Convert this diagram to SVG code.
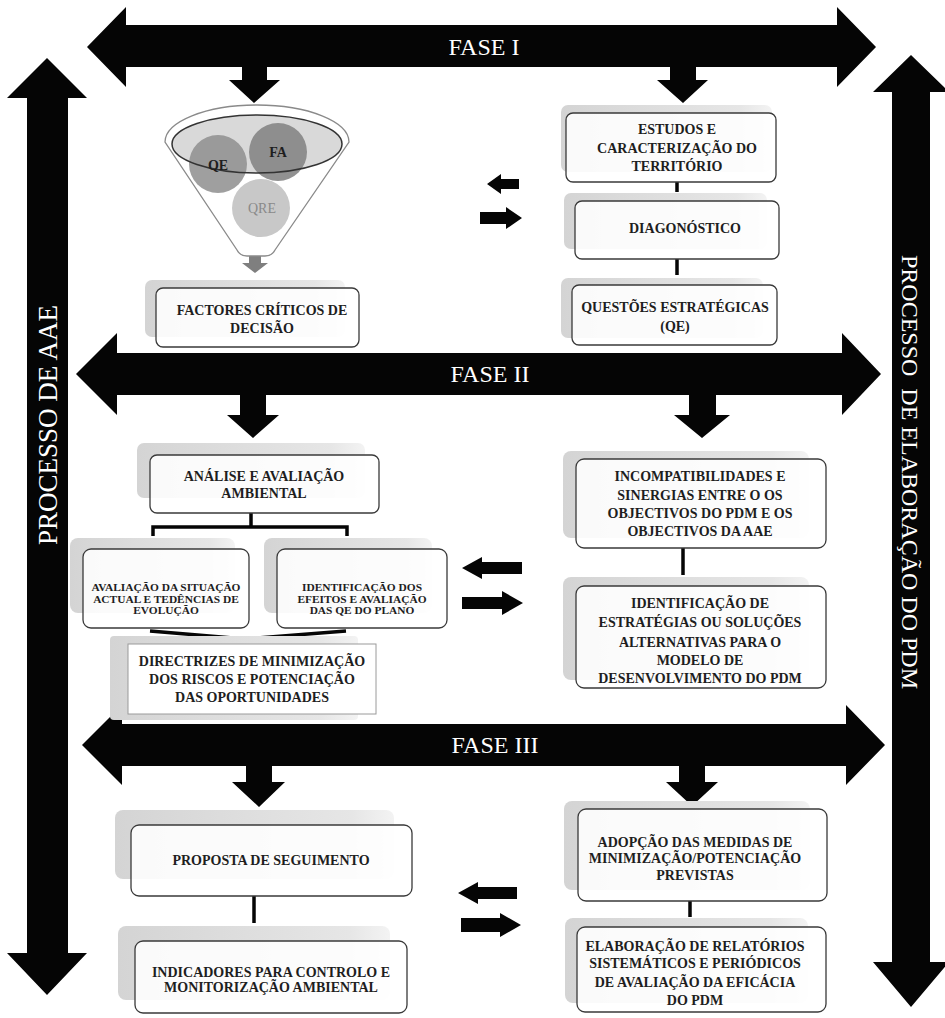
<svg xmlns="http://www.w3.org/2000/svg" width="945" height="1018" viewBox="0 0 945 1018">
<defs>
<linearGradient id="sh" x1="0" y1="0" x2="1" y2="0">
<stop offset="0" stop-color="#d4d4d4"/>
<stop offset="0.85" stop-color="#e6e6e6"/>
<stop offset="1" stop-color="#f3f3f3"/>
</linearGradient>
<style>
.sh{fill:url(#sh);}
.box{fill:#ffffff;fill-opacity:0.88;stroke:#3a3a3a;stroke-width:1.3;}
.sq{fill:#ffffff;stroke:#9a9a9a;stroke-width:1;}
.t{font-family:"Liberation Serif","Times New Roman",serif;font-weight:bold;font-size:14px;fill:#1e1e1e;text-anchor:middle;}
.ts{font-size:11.4px;}
.ph{font-family:"Liberation Serif","Times New Roman",serif;font-size:24px;fill:#ffffff;text-anchor:middle;}
.vt{font-family:"Liberation Serif","Times New Roman",serif;fill:#ffffff;text-anchor:middle;}
.blk{fill:#050505;}
.ln{stroke:#050505;stroke-width:3.5;fill:none;}
</style>
</defs>
<rect width="945" height="1018" fill="#ffffff"/>

<g id="connectors">
<!-- vertical process arrows -->
<polygon class="blk" points="47,58 87,98 68,98 68,953 87,953 47,995 7,953 27,953 27,98 7,98"/>
<polygon class="blk" points="911,55 949,92 930,92 930,962 949,962 911,1007 873,962 892,962 892,92 873,92"/>
<!-- FASE I -->
<polygon class="blk" points="87,47 126,7 126,25 837,25 837,7 876,47 837,87 837,67 683,67 683,67 126,67 126,87"/>
<polygon class="blk" points="242,66 267,66 267,80 280,80 254,103 229,80 242,80"/>
<polygon class="blk" points="670,66 696,66 696,80 708,80 683,103 657,80 670,80"/>
<!-- FASE II -->
<polygon class="blk" points="76,374 117,333 117,353 842,353 842,333 881,374 842,415 842,395 117,395 117,415"/>
<polygon class="blk" points="240,394 266,394 266,415 279,415 253,438 227,415 240,415"/>
<polygon class="blk" points="689,394 716,394 716,415 730,415 702,438 674,415 689,415"/>
<!-- FASE III -->
<polygon class="blk" points="82,745 122,705 122,724 846,724 846,705 885,745 846,785 846,766 122,766 122,785"/>
<polygon class="blk" points="246,765 272,765 272,782 285,782 259,807 232,782 246,782"/>
<polygon class="blk" points="679,765 705,765 705,782 718,782 692,806 666,782 679,782"/>
<!-- exchange arrows -->
<polygon class="blk" points="487,184 501,174 501,179 519,179 519,189 501,189 501,194"/>
<polygon class="blk" points="480,212 506,212 506,207 522,218 506,229 506,224 480,224"/>
<polygon class="blk" points="462,568 482,557 482,562 522,562 522,574 482,574 482,579"/>
<polygon class="blk" points="462,597 502,597 502,591 523,603 502,615 502,609 462,609"/>
<polygon class="blk" points="458,893 478,882 478,887 517,887 517,899 478,899 478,904"/>
<polygon class="blk" points="461,918 500,918 500,913 521,925 500,937 500,932 461,932"/>
<!-- box connectors -->
<line class="ln" x1="677" y1="182" x2="677" y2="192"/>
<line class="ln" x1="677" y1="259" x2="677" y2="275"/>
<polyline class="ln" points="251,513 251,527"/>
<polyline class="ln" points="153,536 153,527 347,527 347,536"/>
<polyline class="ln" points="150,631 245,639 346,631"/>
<line class="ln" x1="683" y1="548" x2="683" y2="575"/>
<line class="ln" x1="254" y1="896" x2="254" y2="923"/>
<line class="ln" x1="690" y1="901" x2="690" y2="917"/>
<!-- funnel output arrow -->
<polygon fill="#7f7f7f" points="249,256 261,256 261,263 268,263 255,273 242,263 249,263"/>
</g>

<g id="labels-phase">
<text class="ph" x="484" y="55">FASE I</text>
<text class="ph" x="490" y="382">FASE II</text>
<text class="ph" x="495" y="753">FASE III</text>
<text class="vt" font-size="27" transform="translate(48,425) rotate(-90)" dy="9">PROCESSO DE AAE</text>
<text class="vt" font-size="24" xml:space="preserve" transform="translate(910,472) rotate(90)" dy="8">PROCESSO  DE ELABORAÇÃO DO PDM</text>
</g>

<g id="funnel">
<path d="M165,142 A92,37 0 0 1 349,142 L275,250 Q272,256 265,256 L247,256 Q240,256 237,250 Z" fill="#ffffff" stroke="#8a8a8a" stroke-width="1.3"/>
<ellipse cx="257" cy="144" rx="85" ry="29" fill="#d9d9d9"/>
<circle cx="218" cy="164" r="29" fill="#8e8e8e" fill-opacity="0.85"/>
<circle cx="278" cy="152" r="29" fill="#858585" fill-opacity="0.9"/>
<circle cx="261" cy="208" r="29" fill="#c8c8c8"/>
<ellipse cx="257" cy="144" rx="85" ry="29" fill="none" stroke="#333333" stroke-width="1.5"/>
<text class="t" x="218" y="170" font-size="13">QE</text>
<text class="t" x="278" y="157" font-size="13">FA</text>
<text class="t" x="262" y="213" font-size="12" fill="#8a8a8a" style="fill:#8a8a8a;font-weight:normal">QRE</text>
</g>

<g id="n-fcd">
<rect class="sh" x="145" y="280" width="200" height="57" rx="7"/>
<rect class="box" x="156" y="288" width="203" height="59" rx="7"/>
<text class="t" x="262" y="315">FACTORES CRÍTICOS DE</text>
<text class="t" x="262" y="333">DECISÃO</text>
</g>

<g id="n-estudos">
<rect class="sh" x="561" y="105" width="211" height="67" rx="7"/>
<rect class="box" x="566" y="113" width="210" height="69" rx="7"/>
<text class="t" x="677" y="134">ESTUDOS E</text>
<text class="t" x="677" y="152.5">CARACTERIZAÇÃO DO</text>
<text class="t" x="677" y="171">TERRITÓRIO</text>
</g>

<g id="n-diag">
<rect class="sh" x="564" y="193" width="203" height="56" rx="7"/>
<rect class="box" x="575" y="201" width="204" height="58" rx="7"/>
<text class="t" x="685" y="233">DIAGONÓSTICO</text>
</g>

<g id="n-qe">
<rect class="sh" x="561" y="278" width="202" height="60" rx="7"/>
<rect class="box" x="572" y="285" width="205" height="60" rx="7"/>
<text class="t" x="675" y="312">QUESTÕES ESTRATÉGICAS</text>
<text class="t" x="675" y="331">(QE)</text>
</g>

<g id="n-analise">
<rect class="sh" x="137" y="443" width="228" height="55" rx="7"/>
<rect class="box" x="150" y="455" width="229" height="58" rx="7"/>
<text class="t" x="264" y="481">ANÁLISE E AVALIAÇÃO</text>
<text class="t" x="264" y="498">AMBIENTAL</text>
</g>

<g id="n-situacao">
<rect class="sh" x="70" y="538" width="165" height="75" rx="8"/>
<rect class="box" x="83" y="549" width="166" height="79" rx="8"/>
<text class="t ts" x="166" y="591">AVALIAÇÃO DA SITUAÇÃO</text>
<text class="t ts" x="166" y="602.5">ACTUAL E TEDÊNCIAS DE</text>
<text class="t ts" x="166" y="614">EVOLUÇÃO</text>
</g>

<g id="n-efeitos">
<rect class="sh" x="264" y="538" width="168" height="75" rx="8"/>
<rect class="box" x="277" y="549" width="170" height="79" rx="8"/>
<text class="t ts" x="362" y="591">IDENTIFICAÇÃO DOS</text>
<text class="t ts" x="362" y="602.5">EFEITOS E AVALIAÇÃO</text>
<text class="t ts" x="362" y="614">DAS QE DO PLANO</text>
</g>

<g id="n-directrizes">
<rect class="sh" x="110" y="636" width="248" height="84" rx="4"/>
<rect class="sq" x="128" y="644" width="248" height="70"/>
<text class="t" x="252" y="666">DIRECTRIZES DE MINIMIZAÇÃO</text>
<text class="t" x="252" y="684">DOS RISCOS E POTENCIAÇÃO</text>
<text class="t" x="252" y="702">DAS OPORTUNIDADES</text>
</g>

<g id="n-incompat">
<rect class="sh" x="563" y="451" width="246" height="87" rx="8"/>
<rect class="box" x="576" y="459" width="250" height="89" rx="8"/>
<text class="t" x="700" y="481">INCOMPATIBILIDADES E</text>
<text class="t" x="700" y="500">SINERGIAS ENTRE O OS</text>
<text class="t" x="700" y="518">OBJECTIVOS DO PDM E OS</text>
<text class="t" x="700" y="536">OBJECTIVOS DA AAE</text>
</g>

<g id="n-alternativas">
<rect class="sh" x="563" y="577" width="246" height="103" rx="8"/>
<rect class="box" x="576" y="586" width="250" height="102" rx="8"/>
<text class="t" x="700" y="608">IDENTIFICAÇÃO DE</text>
<text class="t" x="700" y="627">ESTRATÉGIAS OU SOLUÇÕES</text>
<text class="t" x="700" y="647">ALTERNATIVAS PARA O</text>
<text class="t" x="700" y="665">MODELO DE</text>
<text class="t" x="700" y="683">DESENVOLVIMENTO DO PDM</text>
</g>

<g id="n-proposta">
<rect class="sh" x="115" y="810" width="279" height="69" rx="8"/>
<rect class="box" x="131" y="825" width="281" height="71" rx="8"/>
<text class="t" x="271" y="865">PROPOSTA DE SEGUIMENTO</text>
</g>

<g id="n-indicadores">
<rect class="sh" x="118" y="926" width="272" height="74" rx="8"/>
<rect class="box" x="135" y="941" width="272" height="72" rx="8"/>
<text class="t" x="271" y="977" font-size="14.5">INDICADORES PARA CONTROLO E</text>
<text class="t" x="271" y="992" font-size="14.5">MONITORIZAÇÃO AMBIENTAL</text>
</g>

<g id="n-adopcao">
<rect class="sh" x="564" y="801" width="246" height="89" rx="8"/>
<rect class="box" x="578" y="809" width="249" height="92" rx="8"/>
<text class="t" x="695" y="847">ADOPÇÃO DAS MEDIDAS DE</text>
<text class="t" x="695" y="863">MINIMIZAÇÃO/POTENCIAÇÃO</text>
<text class="t" x="695" y="880">PREVISTAS</text>
</g>

<g id="n-relatorios">
<rect class="sh" x="565" y="918" width="243" height="85" rx="8"/>
<rect class="box" x="577" y="927" width="249" height="85" rx="8"/>
<text class="t" x="695" y="951">ELABORAÇÃO DE RELATÓRIOS</text>
<text class="t" x="695" y="968">SISTEMÁTICOS E PERIÓDICOS</text>
<text class="t" x="695" y="987">DE AVALIAÇÃO DA EFICÁCIA</text>
<text class="t" x="695" y="1005">DO PDM</text>
</g>
</svg>
